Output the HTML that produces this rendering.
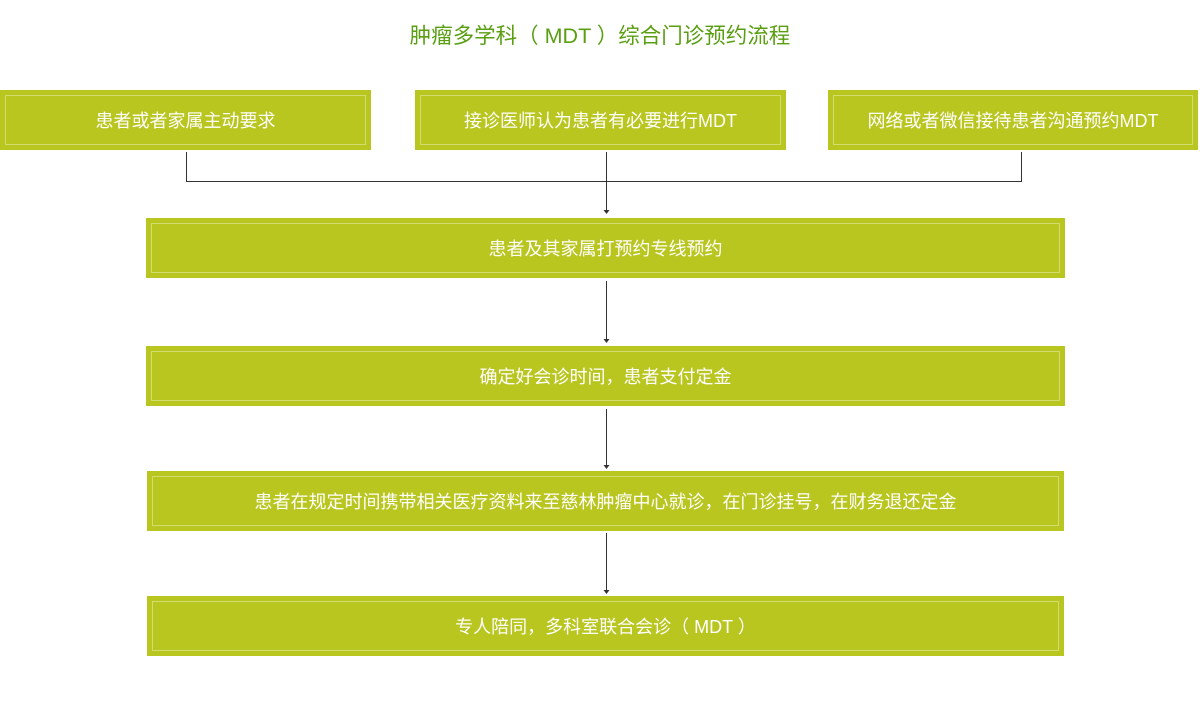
<!DOCTYPE html>
<html><head><meta charset="utf-8"><style>
body{margin:0;width:1200px;height:720px;background:#fff;position:relative;overflow:hidden;font-family:"Liberation Sans","Noto Sans CJK SC",sans-serif}
.t{position:absolute;left:0;width:1200px;top:19px;text-align:center;font-size:21.5px;color:#5a9e12}
.b{position:absolute;background:#b9c61f;box-sizing:border-box;color:#fff;font-size:18px;display:flex;align-items:center;justify-content:center}
.b:after{content:"";position:absolute;left:5px;top:5px;right:5px;bottom:5px;border:1px solid #d3dc70}
svg{position:absolute;left:0;top:0}
</style></head><body>
<div class="t">肿瘤多学科（ MDT ）综合门诊预约流程</div>
<div class="b" style="left:0;top:90px;width:371px;height:60px">患者或者家属主动要求</div>
<div class="b" style="left:415px;top:90px;width:371px;height:60px">接诊医师认为患者有必要进行MDT</div>
<div class="b" style="left:828px;top:90px;width:370px;height:60px">网络或者微信接待患者沟通预约MDT</div>
<div class="b" style="left:146px;top:218px;width:919px;height:60px">患者及其家属打预约专线预约</div>
<div class="b" style="left:146px;top:346px;width:919px;height:60px">确定好会诊时间，患者支付定金</div>
<div class="b" style="left:147px;top:471px;width:917px;height:60px">患者在规定时间携带相关医疗资料来至慈林肿瘤中心就诊，在门诊挂号，在财务退还定金</div>
<div class="b" style="left:147px;top:596px;width:917px;height:60px">专人陪同，多科室联合会诊（ MDT ）</div>
<svg width="1200" height="720">
<g stroke="#333" stroke-width="1" fill="none">
<path d="M186.5 152V181.5H1021.5V152M606.5 152V211"/>
<path d="M606.5 281V340M606.5 409V466M606.5 533V591"/>
</g>
<g fill="#333">
<path d="M603.5 210h6l-3 4z"/><path d="M603.5 339h6l-3 4z"/><path d="M603.5 465h6l-3 4z"/><path d="M603.5 590h6l-3 4z"/>
</g>
</svg>
</body></html>
